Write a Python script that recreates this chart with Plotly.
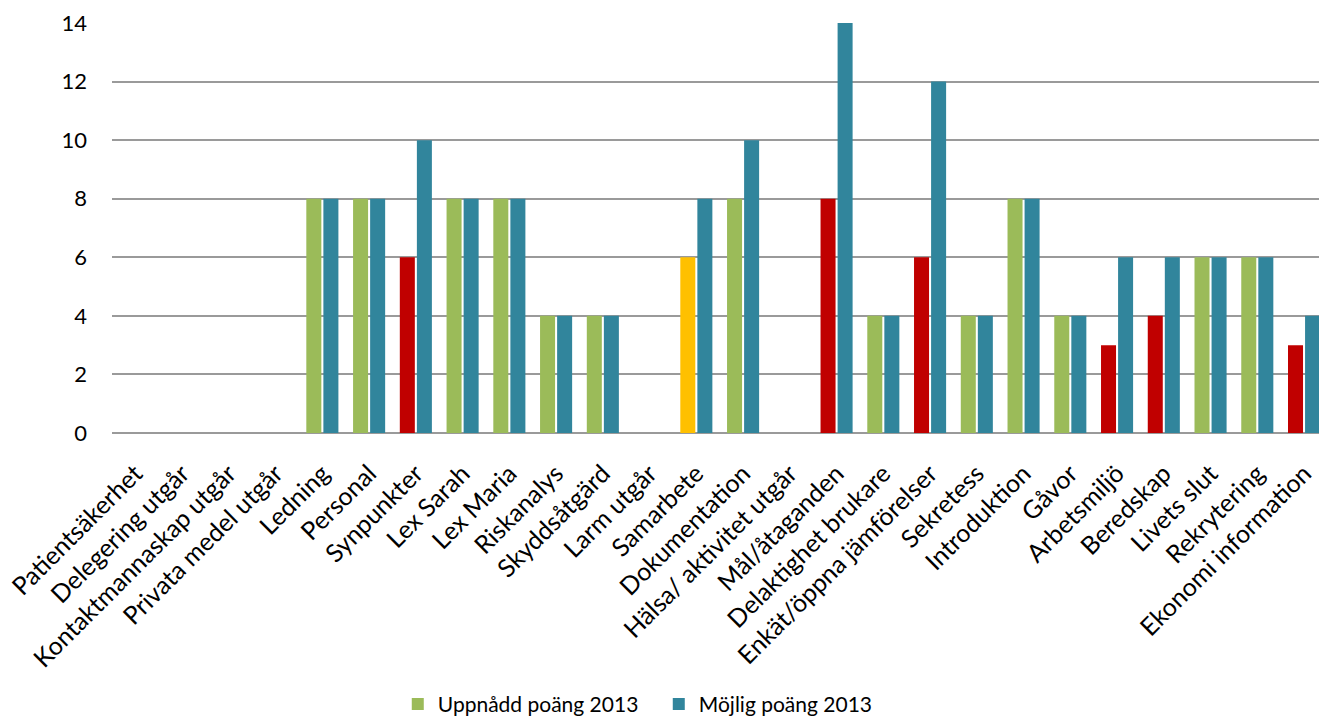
import plotly.graph_objects as go

categories = ["Patientsäkerhet", "Delegering utgår", "Kontaktmannaskap utgår", "Privata medel utgår",
              "Ledning", "Personal", "Synpunkter", "Lex Sarah", "Lex Maria", "Riskanalys",
              "Skyddsåtgärd", "Larm utgår", "Samarbete", "Dokumentation", "Hälsa/ aktivitet utgår",
              "Mål/åtaganden", "Delaktighet brukare", "Enkät/öppna jämförelser", "Sekretess",
              "Introduktion", "Gåvor", "Arbetsmiljö", "Beredskap", "Livets slut", "Rekrytering",
              "Ekonomi information"]
achieved = [0, 0, 0, 0, 8, 8, 6, 8, 8, 4, 4, 0, 6, 8, 0, 8, 4, 6, 4, 8, 4, 3, 4, 6, 6, 3]
possible = [0, 0, 0, 0, 8, 8, 10, 8, 8, 4, 4, 0, 8, 10, 0, 14, 4, 12, 4, 8, 4, 6, 6, 6, 6, 4]
y_ticks = [0, 2, 4, 6, 8, 10, 12, 14]

GREEN, BLUE, RED, YELLOW = "#9BBB59", "#31859C", "#C00000", "#FFC000"
achieved_status = ["g", "g", "g", "g", "g", "g", "r", "g", "g", "g", "g", "g", "y", "g", "g",
                   "r", "g", "r", "g", "g", "g", "r", "r", "g", "g", "r"]
cmap = {"g": GREEN, "r": RED, "y": YELLOW}
achieved_colors = [cmap[s] for s in achieved_status]

FONT = "Lato"

fig = go.Figure()
fig.add_trace(go.Bar(x=categories, y=achieved, name="Uppnådd poäng 2013",
                     marker=dict(color=achieved_colors, line=dict(width=0))))
fig.add_trace(go.Bar(x=categories, y=possible, name="Möjlig poäng 2013",
                     marker=dict(color=BLUE, line=dict(width=0))))

fig.update_layout(
    width=1319, height=722,
    margin=dict(l=112, r=0, t=23, b=289, autoexpand=False),
    paper_bgcolor="white", plot_bgcolor="white",
    barmode="group", bargap=0.27, bargroupgap=0.12,
    font=dict(family=FONT, color="#000000", size=21),
    showlegend=True,
    legend=dict(orientation="h", x=0.453, xanchor="center", y=-0.662, yanchor="middle",
                font=dict(size=21, family=FONT), itemsizing="constant", traceorder="normal",
                entrywidth=216, entrywidthmode="pixels"),
    xaxis=dict(range=[-0.5, 25.32], tickangle=-45, tickfont=dict(size=25, family=FONT),
               showgrid=False, showline=False, ticks="", ticklabelstandoff=20, automargin=False),
    yaxis=dict(range=[0, 14], tickvals=y_ticks, showgrid=True, gridcolor="#9a9a9a",
               gridwidth=2, zeroline=True, zerolinecolor="#9a9a9a", zerolinewidth=2,
               tickfont=dict(size=22, family=FONT), ticklabelstandoff=24, ticks="", automargin=False),
)

fig.write_html("out.html")
